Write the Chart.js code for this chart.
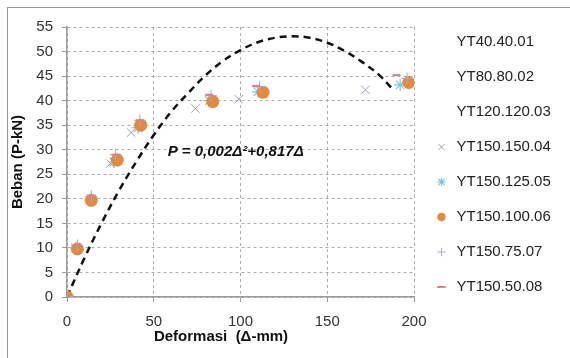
<!DOCTYPE html>
<html>
<head>
<meta charset="utf-8">
<script src="https://cdn.jsdelivr.net/npm/chart.js@4.4.1/dist/chart.umd.min.js"></script>
<style>
  html, body { margin: 0; padding: 0; background: #fff; overflow: hidden; }
  #wrap { position: relative; width: 570px; height: 358px; }
  #frame { position: absolute; left: 7px; top: 7px; width: 620px; height: 420px;
           border-top: 1.5px solid #999; border-left: 1.5px solid #999; }
  #chart { position: absolute; left: 0; top: 0; }
</style>
</head>
<body>
<div id="wrap">
  <div id="frame"></div>
  <canvas id="chart" width="570" height="358"></canvas>
</div>
<script>
// ─── data ───
const seriesNames = ['YT40.40.01', 'YT80.80.02', 'YT120.120.03', 'YT150.150.04',
                     'YT150.125.05', 'YT150.100.06', 'YT150.75.07', 'YT150.50.08'];

const x04 = [0, 5, 14, 25, 37, 74, 99, 172];
const y04 = [0, 10, 20, 27.2, 33.5, 38.4, 40.3, 42.2];
const x05 = [0, 5, 14, 27, 41, 82, 110, 192];
const y05 = [0, 10, 20, 27.5, 34.5, 40, 41.8, 43.2];
const x06 = [0, 6, 14, 29, 42.5, 84, 113, 197];
const y06 = [0, 9.8, 19.7, 27.9, 35, 39.8, 41.7, 43.7];
const x07 = [0, 6, 14, 28, 42, 83, 111, 196];
const y07 = [0, 10.5, 20.5, 29, 36, 41, 42.8, 44.5];
const x08 = [0, 6, 14, 28, 42, 82, 109, 190];
const y08 = [0, 10.5, 20.5, 29, 36, 41.2, 43, 45.2];

// dashed fit curve
const curveX = [0, 10, 20, 30, 40, 50, 60, 70, 80, 90, 100, 110, 120, 130, 140, 150, 160, 170, 180, 187];
const curveY = [0, 7.9, 15.1, 21.7, 27.6, 33.0, 37.7, 41.6, 45.2, 48.1, 50.3, 51.9, 52.8, 53.1, 52.8, 51.8, 50.1, 47.9, 45.2, 42.6];

const xTicks = [0, 50, 100, 150, 200];
const yTicks = [0, 5, 10, 15, 20, 25, 30, 35, 40, 45, 50, 55];

const equation = 'P = 0,002\u0394\u00B2+0,817\u0394';
const eqAt = [58, 29.6];

const pts = (xs, ys) => xs.map((v, i) => ({ x: v, y: ys[i] }));
const FONT = '"Liberation Sans", Arial, sans-serif';
const clear = 'rgba(0,0,0,0)';
const gridColor = '#ababab';
const axisColor = '#9a9a9a';

const marker = (label, data, style, color, radius, width, order, fill) => ({
  label, data, order, xAxisID: 'x', yAxisID: 'y',
  pointStyle: style, pointRadius: radius, pointHoverRadius: radius,
  borderColor: color, backgroundColor: fill || color, borderWidth: width, showLine: false
});

// ─── extra text: x title + equation ───
const extras = {
  id: 'extras',
  afterDraw(chart) {
    const { ctx, scales: { x, y } } = chart;
    ctx.save();
    ctx.fillStyle = '#111';
    ctx.textBaseline = 'middle';
    ctx.font = 'italic bold 15px ' + FONT;
    ctx.textAlign = 'left';
    ctx.fillText(equation, x.getPixelForValue(eqAt[0]), y.getPixelForValue(eqAt[1]));
    ctx.font = 'bold 15px ' + FONT;
    ctx.textAlign = 'center';
    ctx.fillText('Deformasi  (\u0394-mm)', 221, 337);
    ctx.restore();
  }
};

new Chart(document.getElementById('chart'), {
  type: 'scatter',
  data: {
    datasets: [
      marker(seriesNames[0], [], 'circle', clear, 0, 0, 10),
      marker(seriesNames[1], [], 'circle', clear, 0, 0, 10),
      marker(seriesNames[2], [], 'circle', clear, 0, 0, 10),
      marker(seriesNames[3], pts(x04, y04), 'crossRot', '#9f9cb8', 6, 1, 5),
      marker(seriesNames[4], pts(x05, y05), 'star', '#7ec8de', 6, 1.2, 4),
      marker(seriesNames[5], pts(x06, y06), 'circle', '#e28a3d', 6.5, 0, 3),
      marker(seriesNames[6], pts(x07, y07), 'cross', '#a8a8d4', 6, 1, 2),
      marker(seriesNames[7], pts(x08, y08), 'line', '#d98080', 4, 2, 1),
      {
        label: '', type: 'line', data: pts(curveX, curveY), order: 6,
        xAxisID: 'x', yAxisID: 'y',
        borderColor: '#111', borderWidth: 2.5, borderDash: [7, 5],
        pointRadius: 0, tension: 0.4, fill: false
      }
    ]
  },
  options: {
    responsive: false, animation: false,
    layout: { padding: { left: 0, right: 18, top: 14.5, bottom: 0 } },
    plugins: {
      tooltip: { enabled: false },
      legend: {
        position: 'right', align: 'start',
        labels: {
          usePointStyle: true, boxWidth: 15, boxHeight: 6, padding: 20,
          color: '#222', font: { family: FONT, size: 15 },
          filter: item => item.text !== '',
          sort: (a, b) => a.datasetIndex - b.datasetIndex
        }
      }
    },
    scales: {
      // spacer above the plot so the legend can start higher than the plot
      top: {
        type: 'linear', axis: 'x', position: 'top', min: 0, max: 1,
        afterFit: s => { s.height = 12.5; },
        grid: { display: false }, border: { display: false }, ticks: { display: false }
      },
      x: {
        type: 'linear', axis: 'x', position: 'bottom', min: 0, max: 200,
        afterFit: s => { s.height = 61; },
        afterBuildTicks: s => { s.ticks = xTicks.map(v => ({ value: v })); },
        grid: { color: gridColor, tickLength: 5, tickColor: axisColor },
        border: { color: axisColor, width: 1.5, dash: [3, 3] },
        ticks: { color: '#333', padding: 11, maxRotation: 0, font: { family: FONT, size: 15 } }
      },
      y: {
        type: 'linear', axis: 'y', position: 'left', min: 0, max: 55,
        afterFit: s => { s.width = 67; },
        afterBuildTicks: s => { s.ticks = yTicks.map(v => ({ value: v })); },
        grid: { color: gridColor, tickLength: 5, tickColor: axisColor },
        border: { color: axisColor, width: 1.5, dash: [3, 3] },
        ticks: { color: '#333', padding: 9, font: { family: FONT, size: 15 } },
        title: {
          display: true, text: 'Beban (P-kN)', color: '#111',
          padding: { top: 9, bottom: 0 }, font: { family: FONT, size: 15, weight: 'bold' }
        }
      }
    }
  },
  plugins: [extras]
});
</script>
</body>
</html>
